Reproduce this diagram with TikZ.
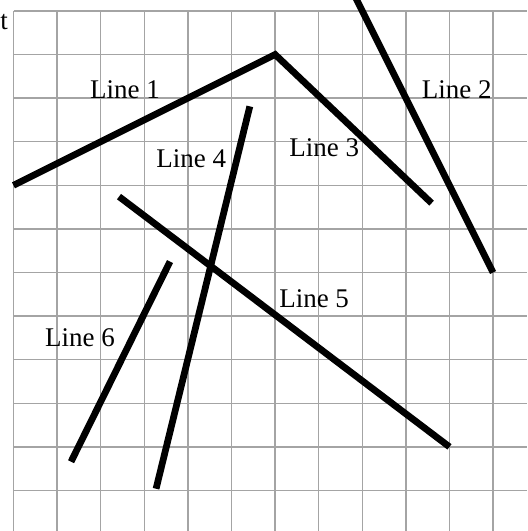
\documentclass[tikz,border=0pt]{standalone}
\usepackage{fontspec}
\setmainfont{Liberation Serif}
\usetikzlibrary{positioning}
\definecolor{GridGray}{HTML}{A4A4A4}

\begin{document}
\begin{tikzpicture}[seg/.style={line width=4.4pt},
  lbl/.style={anchor=base west,inner sep=0pt,font=\fontsize{17.6}{20}\selectfont}]
  \useasboundingbox (-0.31,-11.93) rectangle (11.78,0.25);
  \fill[white] (-0.31,-11.93) rectangle (11.78,0.25);
  \draw[GridGray,line width=1pt,step=1] (0,-11.93) grid (11.78,0);
  \node[lbl,anchor=base east] (cut) at (-0.12,-0.43) {t};
  % line end points
  \coordinate (a1) at (0,-4);
  \coordinate (top) at (6,-1);
  \coordinate (a3) at (9.59,-4.41);
  \coordinate (a2) at (7.86,0.28);
  \coordinate (b2) at (11,-6);
  \coordinate (a4) at (5.42,-2.19);
  \coordinate (b4) at (3.27,-10.96);
  \coordinate (a5) at (2.42,-4.26);
  \coordinate (b5) at (10,-10);
  \coordinate (a6) at (3.59,-5.75);
  \coordinate (b6) at (1.32,-10.34);
  \draw[seg] (a1) -- (top) -- (a3);
  \draw[seg] (a2) -- (b2);
  \draw[seg] (a4) -- (b4);
  \draw[seg] (a5) -- (b5);
  \draw[seg] (a6) -- (b6);
  \node[lbl] (n1) at (1.75,-2.0) {Line 1};
  \node[lbl] (n2) at (9.36,-2.0) {Line 2};
  \node[lbl] (n3) at (6.32,-3.34) {Line 3};
  \node[lbl] (n4) at (3.27,-3.6) {Line 4};
  \node[lbl] (n5) at (6.09,-6.81) {Line 5};
  \node[lbl] (n6) at (0.72,-7.7) {Line 6};
\end{tikzpicture}
\end{document}
